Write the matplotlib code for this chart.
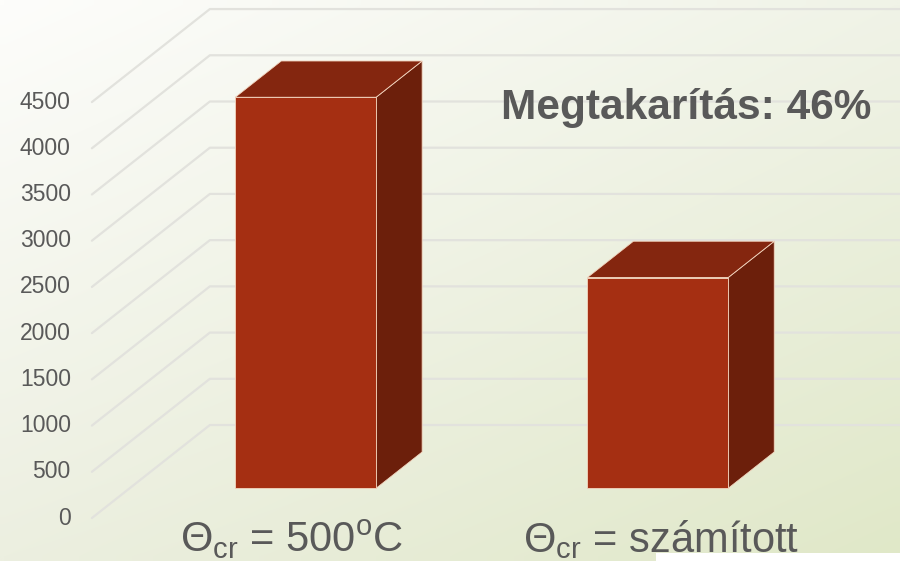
import numpy as np
import matplotlib
matplotlib.use("Agg")
import matplotlib.pyplot as plt
from matplotlib.patches import Polygon, Rectangle

plt.rcParams['font.family'] = ['Liberation Sans', 'DejaVu Sans']
plt.rcParams['mathtext.fontset'] = 'custom'
plt.rcParams['mathtext.rm'] = 'Liberation Sans'
plt.rcParams['mathtext.it'] = 'Liberation Sans'

# data
categories = [r'$\mathrm{Θ}_{\mathrm{cr}}$ = 500$^{\mathrm{o}}$C',
              r'$\mathrm{Θ}_{\mathrm{cr}}$ = számított']
values = [4230, 2280]
ticks = list(range(0, 5000, 500))
note = 'Megtakarítás: 46%'

# oblique 3D settings (depth in x-category units / value units)
DX, DV = 0.335, 1006
D0, D1 = 0.32, 0.71
BAR_W = 0.40
TEXT = '#595959'
GRID = '#e2e2dd'

fig = plt.figure(figsize=(9, 5.61), dpi=100)

# background gradient
bg = fig.add_axes([0, 0, 1, 1], zorder=0)
h, w = 60, 100
yy, xx = np.mgrid[0:1:h * 1j, 0:1:w * 1j]
tl = np.array([253, 253, 251]) / 255
tr = np.array([240, 243, 231]) / 255
bl = np.array([236, 239, 224]) / 255
br = np.array([224, 232, 200]) / 255
img = ((1 - yy)[..., None] * ((1 - xx)[..., None] * tl + xx[..., None] * tr)
       + yy[..., None] * ((1 - xx)[..., None] * bl + xx[..., None] * br))
bg.imshow(img, aspect='auto', extent=[0, 1, 0, 1], interpolation='bilinear')
bg.axis('off')

ax = fig.add_axes([0, 0, 1, 1], zorder=1)
ax.patch.set_alpha(0)
ax.set_xlim(-0.761, 1.795)
ax.set_ylim(-465, 5604)
ax.axis('off')


def proj(x, v, d):
    return (x + d * DX, v + d * DV)


x_left, x_right = -0.5, len(categories) - 0.5

# gridlines: side wall diagonal + back wall
for t in ticks:
    p0 = proj(x_left, t, 0)
    p1 = proj(x_left, t, 1)
    p2 = proj(x_right, t, 1)
    ax.plot([p0[0], p1[0], p2[0]], [p0[1], p1[1], p2[1]],
            color=GRID, lw=1.6, solid_capstyle='round', zorder=2)
    ax.text(p0[0] - 0.06, t, str(t), ha='right', va='center',
            fontsize=16.5, color=TEXT, zorder=3)

# bars
for i, v in enumerate(values):
    x0, x1 = i - BAR_W / 2, i + BAR_W / 2
    front = [proj(x0, 0, D0), proj(x1, 0, D0), proj(x1, v, D0), proj(x0, v, D0)]
    top = [proj(x0, v, D0), proj(x1, v, D0), proj(x1, v, D1), proj(x0, v, D1)]
    side = [proj(x1, 0, D0), proj(x1, 0, D1), proj(x1, v, D1), proj(x1, v, D0)]
    ax.add_patch(Polygon(side, closed=True, fc='#6c1f0b', ec='#f3d6c0', lw=0.6, zorder=4))
    ax.add_patch(Polygon(top, closed=True, fc='#84260f', ec='#f3d6c0', lw=0.6, zorder=4))
    ax.add_patch(Polygon(front, closed=True, fc='#a52f12', ec='#f3d6c0', lw=0.6, zorder=5))

# category labels
label_x = [0.068, 1.116]
for lx, lab in zip(label_x, categories):
    ax.text(lx, -230, lab, ha='center', va='center', fontsize=30,
            color=TEXT, zorder=6)

ax.text(1.188, 4440, note, ha='center', va='center', fontsize=30.5,
        fontweight='bold', color=TEXT, zorder=6)

# white strip in the lower right corner
fig.patches.append(Rectangle((656 / 900, 0), 1 - 656 / 900, 8 / 561,
                             transform=fig.transFigure, fc='white', ec='none', zorder=10))

fig.savefig('out.png', dpi=100)
